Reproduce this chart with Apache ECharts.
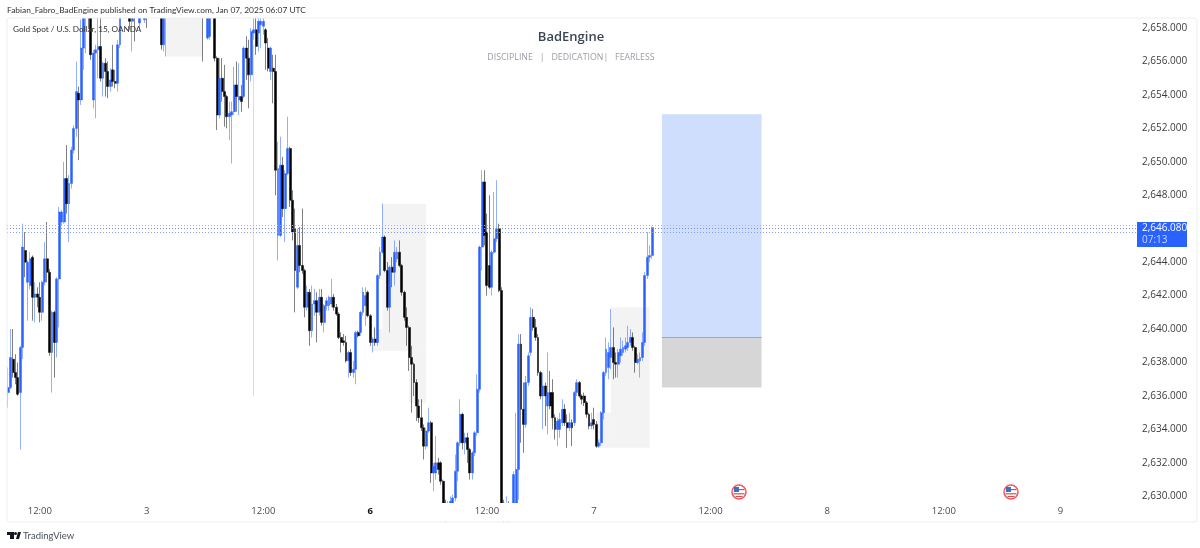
<!DOCTYPE html>
<html>
<head>
<meta charset="utf-8">
<style>html,body{margin:0;background:#fff}#main{width:1200px;height:548px}</style>
<script src="https://cdn.jsdelivr.net/npm/echarts@6/dist/echarts.min.js"></script>
</head>
<body>
<div id="main"></div>
<script>
// 15 minute bars, oldest first
var opens = [
2636.2,2636.5,2638.2,2637.4,2637.1,2636.2,2638.9,2644.7,2642.8,2642.6,
2644.3,2641.9,2642.1,2641.9,2641,2642.8,2644.2,2643.4,2638.6,2641,
2639.2,2643,2646.4,2646.4,2649,2647.5,2648.7,2650.7,2652,2654.1,
2653.7,2656.8,2659,2660,2659.5,2653.7,2656.5,2656.7,2656.9,2655,
2655.9,2655.4,2654.5,2655.5,2654.8,2654.7,2657,2659,2660,2659.5,
2660,2658.4,2659,2658.9,2658.3,2659.5,2658.5,2659.5,2659,2659.5,
2660,2659.6,2660,2659,2657,2658.8,2659,2660,2660.5,2660,
2661,2660.6,2661,2660.4,2660.9,2660.2,2660.7,2660,2660.4,2659.6,
2659.9,2659,2657.4,2657.5,2659,2659.3,2656.2,2652.8,2655,2654.2,
2653.9,2652.7,2652.8,2653,2654.6,2653.7,2653.9,2653.9,2656.8,2656.2,
2655.2,2657.7,2657.9,2657.7,2658.2,2658.1,2657.9,2656.8,2655.4,2655.6,
2655.4,2645.6,2645.6,2649.8,2647.2,2649.3,2650.8,2647.7,2646,2642.5,
2645,2643.8,2643.5,2641.3,2642.2,2639.9,2641.5,2641.7,2641,2641.9,
2640.4,2641.4,2641.4,2641.5,2641.9,2641.3,2640.9,2639.5,2639.3,2639.2,
2638.1,2638.6,2637.4,2637.6,2639.8,2639.8,2641,2641.4,2642.2,2640.8,
2639.2,2639.4,2639.2,2643.2,2644.6,2645.5,2643.5,2641.3,2643.7,2643.4,
2644.2,2644.6,2643.8,2642.2,2640.7,2640.1,2638.3,2637.9,2636.8,2635.4,
2634.7,2634.1,2633,2633.9,2634.4,2631.4,2631.4,2632,2632,2630.9,
2629.6,2629,2629.3,2629.5,2629.9,2631.5,2633.2,2634.9,2633.2,2633.5,
2632.8,2631.4,2632.6,2633.8,2636.4,2644.9,2648.8,2645.8,2643.8,2642.5,
2644.6,2645.4,2646,2642.3,2629.6,2629,2629.4,2629,2629.6,2629.6,
2631.6,2639.1,2635.2,2634.3,2636.8,2638.6,2640.7,2640.1,2639.5,2637.4,
2636,2636.6,2635.4,2636.2,2636.2,2634.7,2634,2634,2634.4,2635.2,
2634.4,2634.1,2634.4,2634.4,2636.2,2636.8,2636,2636,2635.6,2634.9,
2634.2,2634.6,2634.3,2633,2633.2,2635,2637.4,2637.7,2638.3,2638.9,
2638,2637.9,2638.4,2638.6,2638.8,2638.9,2639.2,2639.5,2638.9,2638,
2638.1,2638.3,2639.2,2643.2,2644.3,2644.4
];
var closes = [
2636.5,2638.3,2637.4,2637.1,2636.1,2638.9,2644.9,2644,2644,2644.2,
2641.9,2642.1,2641.9,2641,2642.8,2644.2,2643.4,2638.6,2641,2639.2,
2643,2647,2647,2649,2647.5,2648.7,2650.7,2652,2654.2,2653.7,
2656.8,2659,2660,2659.5,2656.4,2656.5,2656.7,2656.9,2655,2655.9,
2655.4,2654.5,2654.9,2654.8,2654.7,2657,2659,2660,2659.5,2660,
2658.4,2659,2658.9,2659.5,2659.5,2659.9,2659.5,2659,2659.5,2660,
2659.6,2660,2659,2657,2658.8,2659,2660,2660.5,2660,2661,
2660.6,2661,2660.4,2660.9,2660.2,2660.7,2660,2660.4,2659.6,2659.9,
2659,2659.3,2659,2659,2659.3,2656.2,2652.8,2655,2654.2,2653.9,
2652.7,2652.9,2653,2654.6,2653.9,2653.9,2653.6,2656.8,2656.2,2655.2,
2657.8,2657.9,2656.9,2658.4,2658.4,2658.4,2657.1,2655.6,2656.8,2655.4,
2649.5,2649.6,2649.8,2647.2,2649.3,2650.8,2647.7,2645.8,2643.5,2645,
2643.8,2643.5,2641.3,2642.2,2639.9,2641.5,2641.7,2641,2641.9,2640.4,
2641.4,2641.7,2641.9,2641.9,2641.3,2640.9,2639.5,2639.2,2639.2,2638.1,
2638.6,2637.4,2637.6,2639.8,2639.6,2641,2642.2,2642,2640.8,2639.2,
2639.4,2639.2,2643.2,2644.6,2645.5,2643.5,2641.3,2643.7,2643.4,2644.6,
2644.6,2643.8,2642.2,2640.7,2640.1,2638.3,2637.9,2636.8,2635.4,2634.7,
2634.1,2633,2633.9,2634.4,2631.4,2631.8,2632,2631.6,2630.9,2629.6,
2629,2629.3,2629.7,2629.9,2631.5,2633.2,2634.9,2633.2,2633.5,2632.8,
2631.4,2632.6,2633.8,2636.4,2644.9,2648.8,2645.6,2642.6,2642.5,2644.6,
2645.4,2646,2642.3,2629.6,2629,2629.4,2629,2629.3,2631.3,2631.6,
2639.1,2635.2,2634.3,2636.8,2638.4,2640.7,2640.1,2639.5,2637.4,2636,
2636.6,2636,2636.2,2635.4,2634.7,2634,2634.5,2634.6,2635.2,2634.4,
2634.1,2634.4,2634.1,2636.2,2636.8,2636,2635.8,2635.6,2634.9,2634.2,
2634.4,2634.3,2633,2633.2,2635,2637.4,2638.8,2638.6,2638.9,2638,
2637.9,2638.6,2638.8,2638.9,2639,2639.2,2639.5,2638.9,2638,2638.2,
2638.3,2639.2,2643.2,2644.3,2644.4,2646.08
];
var lows = [
2635.3,2636.4,2637.1,2636.7,2636,2632.8,2638.2,2643.1,2640.5,2642.4,
2640.5,2640.4,2641.3,2640.4,2640.5,2642.6,2642.8,2638.4,2636.2,2637.1,
2638.3,2640.1,2646.2,2646.3,2646.9,2645.2,2648.4,2650.5,2651.5,2650.1,
2653.4,2655.5,2656.5,2658,2656.1,2653.2,2652.6,2655,2654.8,2653.9,
2653.9,2653.8,2654.2,2654.5,2654.4,2654.2,2656.8,2658.9,2659,2659.2,
2657.9,2656.6,2657.2,2658.7,2657.9,2659,2658.3,2658,2658.8,2659,
2659.2,2659,2658.8,2656.7,2656.6,2656.3,2658.9,2659.8,2659.7,2659.8,
2660.2,2660.3,2660,2660.1,2659.9,2660,2659.8,2659.7,2659.3,2659,
2656,2658.8,2657.3,2657.3,2658.8,2656,2651.9,2652.6,2653.6,2652.1,
2652,2651.3,2649.9,2652.8,2653,2652.8,2653,2653.8,2654.9,2653.2,
2654.8,2657.3,2656.4,2656.6,2656.8,2657.6,2655.5,2655.4,2654.9,2653.5,
2648,2644.1,2645.5,2646.7,2645.2,2649.2,2647.3,2645.3,2641,2642.4,
2643.4,2643.3,2640.7,2641.1,2639,2639.5,2640.8,2639.2,2640.8,2640.2,
2639.8,2641.1,2641.1,2641.3,2641.1,2640.8,2639.4,2638.6,2639,2638,
2637.1,2637.2,2637.1,2636.7,2639.5,2639.6,2640.8,2640.2,2640.7,2639,
2638.6,2639,2639,2643,2644.5,2643.4,2641.1,2639.8,2642.5,2642.6,
2644,2643.7,2642,2640.5,2639,2637.5,2635,2636,2634.5,2634.4,
2633.9,2632.2,2632.8,2633.8,2630.8,2630.3,2631,2631.3,2630.7,2629.4,
2628.5,2628.7,2629.1,2629.3,2629.7,2630.9,2633,2632.8,2632.5,2632,
2631,2631,2632.4,2633.6,2636.2,2643.5,2645,2642,2642.4,2642,
2644.5,2645.2,2642.2,2629.4,2628.5,2628.8,2628.5,2628.6,2629.4,2629.4,
2629.8,2633.2,2632.6,2634.1,2636.6,2638.4,2639.9,2639.3,2637.2,2635.8,
2634,2634.2,2633.7,2635.2,2634,2633.4,2633,2633.5,2634.2,2634.2,
2632.9,2633.9,2633,2634.2,2636,2635.9,2635.5,2635.4,2634.7,2634,
2634,2634,2632.9,2632.9,2633,2634.6,2637.2,2637,2637.6,2637,
2637.1,2637.1,2638,2638.4,2638.6,2638.7,2639,2638.7,2637.4,2637.9,
2637.1,2638.1,2639,2643,2644,2644.2
];
var highs = [
2637.7,2640,2640,2638.5,2638,2639,2646.3,2645.8,2644.1,2644.6,
2644.4,2642.8,2642.5,2642.8,2642.9,2645.2,2646.4,2643.6,2641.1,2641.1,
2643.1,2647.3,2647.1,2650,2651,2649.2,2650.9,2652.2,2656,2654.5,
2658.5,2660,2661,2660.5,2660,2656.7,2657,2659,2658.7,2656,
2656.2,2656,2655.6,2657,2655.5,2657.3,2660,2660.5,2661,2660.5,
2661,2659.5,2659.6,2660,2660,2660.5,2660,2660,2660,2660.5,
2660.4,2660.6,2660.5,2659.5,2659,2659.5,2660.5,2661,2661,2661.5,
2661.4,2661.6,2661.3,2661.2,2661.1,2661,2661,2660.8,2660.7,2660.2,
2660.2,2659.8,2659.5,2659.4,2659.7,2659.6,2656.3,2656.2,2656.2,2655.8,
2654,2653.6,2653.6,2655.7,2656,2655.9,2654.6,2656.9,2657.5,2657.3,
2658,2658.6,2658.6,2659,2658.9,2658.8,2658,2657.4,2656.9,2656.4,
2656.4,2651.2,2651.5,2650.3,2649.5,2652.7,2650.9,2648.3,2647.2,2646,
2646.1,2647.2,2643.6,2642.6,2642.4,2642.6,2642.4,2642.2,2642.4,2642.4,
2641.5,2641.9,2642,2643,2642.1,2641.5,2641,2639.8,2639.7,2639.6,
2638.7,2638.8,2638.1,2639.9,2639.9,2641.1,2642.5,2642.5,2642.3,2640.9,
2639.5,2640.1,2643.3,2644.9,2647.5,2645.6,2644,2643.8,2644.3,2645.3,
2644.9,2645.3,2643.9,2642.3,2641.3,2640.2,2639,2638,2637,2635.8,
2635.8,2634.3,2634.1,2635.3,2634.5,2632,2633.6,2632.3,2632.1,2631,
2629.8,2629.7,2630,2630.1,2632.5,2633.3,2635.8,2635,2633.8,2633.8,
2632.9,2632.7,2633.9,2637.3,2645,2649.5,2649.5,2646.9,2648,2644.7,
2648.2,2648.9,2646.3,2642.5,2629.8,2630,2629.7,2629.6,2631.5,2635,
2639.7,2639.7,2636.8,2637.2,2638.6,2641.3,2641.2,2640.6,2639.7,2637.5,
2637.4,2636.8,2638.6,2637.5,2637,2634.9,2634.7,2635,2635.8,2635.5,
2634.9,2635,2634.6,2636.3,2637,2636.9,2636.1,2636.2,2635.7,2635,
2635,2635.3,2634.5,2633.4,2635.1,2637.5,2639.5,2639.2,2641.2,2640.1,
2638.6,2638.8,2639.5,2639.3,2639.5,2640.2,2640,2639.8,2639,2638.5,
2638.6,2639.8,2643.4,2645.8,2645,2646.1
];

var barCount = 465; // includes the empty future part of the time scale
var tickBars = [13, 57, 105, 149, 197, 241, 289, 337, 385, 433];
var tickLabels = ['12:00', '3', '12:00', '{bold|6}', '12:00', '7', '12:00', '8', '12:00', '9'];
// 2,646.000 sits under the last price tag in the picture
var priceTicks = [2630, 2632, 2634, 2636, 2638, 2640, 2642, 2644, 2648, 2650, 2652, 2654, 2656, 2658];

var lastPrice = 2646.08;
var countdown = '07:13';
var priceLines = [2646.22, 2646.05, 2645.8];
var priceLineColors = ['#eaa6a6', '#7f86d8', '#7ba2f5'];

// one very long thin wick that the picture draws paler than the others
var paleWick = { bar: 101, low: 2636, high: 2657 };

// drawn zones: first bar, last bar, top price, bottom price
var zones = [
  [65, 80, 2658.6, 2656.3],
  [154, 172, 2647.5, 2638.7],
  [150, 154, 2640, 2638.7],
  [165, 172, 2638.7, 2635.6],
  [248, 264, 2641.3, 2632.9],
  [242, 248, 2635, 2632.9]
];
var longBox = [269, 310, 2652.85, 2639.5];
var stopBox = [269, 310, 2639.5, 2636.5];

var categories = [];
for (var i = 0; i < barCount; i++) categories.push('');
tickBars.forEach(function (b, k) { categories[b] = tickLabels[k]; });

var candles = opens.map(function (o, k) {
  return [o, closes[k], lows[k], highs[k]];
});

function boxArea(box, color) {
  return [
    { coord: [box[0], box[2]], itemStyle: { color: color } },
    { coord: [box[1], box[3]] }
  ];
}

function flag(x, y) {
  return {
    type: 'group', x: x, y: y, silent: true,
    children: [
      { type: 'circle', z: 11, shape: { cx: 0, cy: 0, r: 7 }, style: { fill: '#fff', stroke: '#ee5a5f', lineWidth: 1.5 } },
      { type: 'rect', z: 12, shape: { x: -5, y: -5, width: 5, height: 5 }, style: { fill: '#3f6fc4' } },
      { type: 'rect', z: 12, shape: { x: 0, y: -3, width: 5.5, height: 1.2 }, style: { fill: '#e2474c' } },
      { type: 'rect', z: 12, shape: { x: -5.5, y: 1.2, width: 11, height: 1.2 }, style: { fill: '#e2474c' } },
      { type: 'rect', z: 12, shape: { x: -3.5, y: 4, width: 7, height: 1 }, style: { fill: '#e2474c' } }
    ]
  };
}

function label(x, y, text, size, color, align, weight, font) {
  return {
    type: 'text', x: x, y: y, z: 12, silent: true,
    style: {
      text: text, fill: color, fontSize: size, fontWeight: weight || 'normal',
      fontFamily: font || 'Lato', align: align || 'left', verticalAlign: 'middle'
    }
  };
}

function money(v) {
  return v.toFixed(3).replace(/\B(?=(\d{3})+(?!\d))(?=.*\.)/, ',');
}

// bars above and below the visible price range must not show
function cover(x, y, w, h) {
  return { type: 'rect', z: 10, silent: true, shape: { x: x, y: y, width: w, height: h }, style: { fill: '#ffffff' } };
}

// helper series only carrying one horizontal dotted line each
function priceLineSeries(p, k) {
  return {
    type: 'line',
    data: [],
    silent: true,
    markLine: {
      silent: true,
      symbol: 'none',
      label: { show: false },
      lineStyle: { color: priceLineColors[k], type: [1, 2], width: 1 },
      data: [{ yAxis: p }]
    }
  };
}

var chart = echarts.init(document.getElementById('main'));

var areaData = zones.map(function (z) { return boxArea(z, '#f3f3f3'); });
areaData.push(boxArea(longBox, '#cfdefc'));
areaData.push(boxArea(stopBox, '#d6d6d6'));

var series = [{
  type: 'candlestick',
  data: candles,
  barWidth: 2.4,
  itemStyle: {
    color: '#2962ff',
    color0: '#000000',
    borderColor: '#2962ff',
    borderColor0: '#000000',
    borderWidth: 0.5
  },
  markLine: {
    silent: true,
    symbol: 'none',
    label: { show: false },
    data: [
      [
        { coord: [paleWick.bar, paleWick.low], lineStyle: { color: '#cfdcfb', type: 'solid', width: 1 } },
        { coord: [paleWick.bar, paleWick.high] }
      ],
      [
        { coord: [longBox[0], longBox[3]], lineStyle: { color: '#a8a8a8', type: 'solid', width: 1 } },
        { coord: [longBox[1], longBox[3]] }
      ]
    ]
  },
  markArea: {
    silent: true,
    data: areaData
  }
}].concat(priceLines.map(priceLineSeries));

chart.setOption({
  animation: false,
  backgroundColor: '#ffffff',
  grid: { left: 7, top: 18, width: 1130, height: 485 },
  xAxis: {
    type: 'category',
    data: categories,
    boundaryGap: true,
    z: 20,
    axisLine: { show: false },
    axisTick: { show: false },
    splitLine: { show: false },
    axisLabel: {
      interval: 0,
      margin: 3,
      color: '#4a4a4a',
      fontSize: 9.5,
      fontFamily: 'Open Sans',
      rich: { bold: { fontWeight: 'bold', color: '#111', fontSize: 9.5, fontFamily: 'Open Sans' } }
    }
  },
  yAxis: {
    type: 'value',
    position: 'right',
    min: 2629.6,
    max: 2658.6,
    axisLine: { show: false },
    axisTick: { show: false },
    splitLine: { show: false },
    axisLabel: {
      customValues: priceTicks,
      margin: 5,
      color: '#3c3c3c',
      fontSize: 10,
      fontFamily: 'Open Sans',
      formatter: money
    }
  },
  series: series,
  graphic: [
    cover(0, 0, 1200, 18),
    cover(8, 503, 1186, 18),
    { type: 'rect', z: 11, silent: true, shape: { x: 7, y: 18, width: 1190, height: 504, r: 3 }, style: { fill: 'none', stroke: '#eceef2' } },
    label(7, 10, 'Fabian_Fabro_BadEngine published on TradingView.com, Jan 07, 2025 06:07 UTC', 8.4, '#333'),
    label(13, 29, 'Gold Spot / U.S. Dollar, 15, OANDA', 8.2, '#333'),
    label(571, 37, 'BadEngine', 13, '#3d4654', 'center', 600, 'Open Sans'),
    label(571, 57, 'DISCIPLINE   |   DEDICATION|   FEARLESS', 8.8, '#9a9ea6', 'center', 'normal', 'Open Sans'),
    { type: 'rect', z: 11, silent: true, shape: { x: 1137, y: 222, width: 50, height: 25 }, style: { fill: '#2962ff' } },
    label(1142, 228.5, money(lastPrice), 10, '#ffffff', 'left', 500, 'Open Sans'),
    label(1142, 240, countdown, 10, '#c9d7ff', 'left', 'normal', 'Open Sans'),
    flag(739, 492),
    flag(1011, 492),
    { type: 'polygon', silent: true, shape: { points: [[7, 532], [14, 532], [14, 539], [10, 539], [10, 535], [7, 535]] }, style: { fill: '#131722' } },
    { type: 'circle', silent: true, shape: { cx: 15.5, cy: 533.5, r: 1.5 }, style: { fill: '#131722' } },
    { type: 'polygon', silent: true, shape: { points: [[16, 539], [18, 532], [21, 532], [19, 539]] }, style: { fill: '#131722' } },
    label(23, 535.5, 'TradingView', 9.5, '#4a4f5a')
  ]
});
</script>
</body>
</html>
